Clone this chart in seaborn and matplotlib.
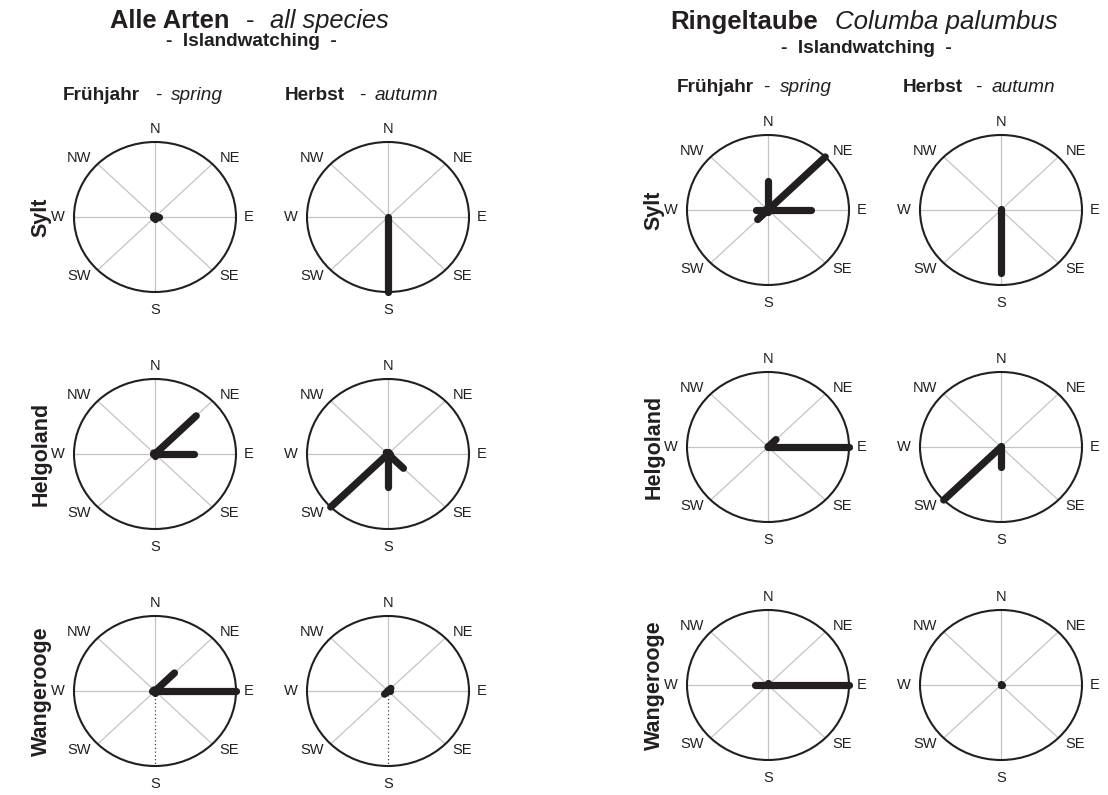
import numpy as np
import pandas as pd
import matplotlib
matplotlib.use("Agg")
import matplotlib.pyplot as plt
from matplotlib.patches import Circle
import seaborn as sns

sns.set_style("white")
plt.rcParams['font.family'] = ['Liberation Sans', 'DejaVu Sans']

# directions, clockwise from north
directions = ["N", "NE", "E", "SE", "S", "SW", "W", "NW"]
angles = [90, 45, 0, -45, -90, -135, 180, 135]

# relative share per direction (1 = outer circle)
all_sylt_spring = [0.02, 0.02, 0.05, 0.02, 0.02, 0.02, 0.03, 0.02]
all_sylt_autumn = [0.0, 0.0, 0.0, 0.0, 1.0, 0.0, 0.0, 0.0]
all_helgo_spring = [0.02, 0.72, 0.48, 0.02, 0.02, 0.0, 0.02, 0.02]
all_helgo_autumn = [0.03, 0.02, 0.03, 0.27, 0.44, 1.0, 0.03, 0.03]
all_wange_spring = [0.02, 0.34, 1.0, 0.02, 0.02, 0.02, 0.04, 0.02]
all_wange_autumn = [0.02, 0.05, 0.02, 0.0, 0.0, 0.06, 0.0, 0.0]

ring_sylt_spring = [0.38, 1.0, 0.53, 0.0, 0.02, 0.18, 0.15, 0.02]
ring_sylt_autumn = [0.02, 0.0, 0.0, 0.0, 0.84, 0.0, 0.0, 0.0]
ring_helgo_spring = [0.02, 0.14, 1.0, 0.0, 0.0, 0.0, 0.0, 0.0]
ring_helgo_autumn = [0.02, 0.0, 0.0, 0.0, 0.26, 1.0, 0.0, 0.0]
ring_wange_spring = [0.03, 0.0, 1.0, 0.0, 0.0, 0.0, 0.16, 0.0]
ring_wange_autumn = [0.01, 0.0, 0.01, 0.0, 0.0, 0.0, 0.0, 0.0]

islands = ["Sylt", "Helgoland", "Wangerooge"]

W, H = 1108, 795
INK = "#231f20"
fig = plt.figure(figsize=(W / 100, H / 100), dpi=100)


def fx(x):
    return x / W


def fy(y):
    return 1 - y / H


def rose(cx, cy, values, rx=81, ry=75, pad=1.45, dotted_south=False):
    ax = fig.add_axes([fx(cx - pad * rx), fy(cy + pad * ry), 2 * pad * rx / W, 2 * pad * ry / H])
    ax.set_xlim(-pad, pad)
    ax.set_ylim(-pad, pad)
    ax.axis("off")
    th = np.deg2rad(angles)
    for d, t in zip(directions, th):
        if dotted_south and d == "S":
            ax.plot([0, 0], [0, -1], color="#444444", lw=0.9, ls=(0, (1, 2)), zorder=1)
        else:
            ax.plot([0, np.cos(t)], [0, np.sin(t)], color="#c4c4c4", lw=0.9, zorder=1)
    ax.add_patch(Circle((0, 0), 1, fill=False, ec=INK, lw=1.5, zorder=2))
    rows = []
    for d, a, v in zip(directions, th, values):
        rows.append({"dir": d, "x": 0.0, "y": 0.0})
        rows.append({"dir": d, "x": v * np.cos(a), "y": v * np.sin(a)})
    df = pd.DataFrame(rows)
    sns.lineplot(data=df, x="x", y="y", units="dir", estimator=None, sort=False,
                 color=INK, lw=5.2, solid_capstyle="round", legend=False, ax=ax, zorder=3)
    ax.set_xlim(-pad, pad)
    ax.set_ylim(-pad, pad)
    ax.set_xlabel("")
    ax.set_ylabel("")
    lab_pos = {"N": (0, 1.17), "NE": (0.92, 0.79), "E": (1.16, 0), "SE": (0.91, -0.79),
               "S": (0, -1.24), "SW": (-0.94, -0.79), "W": (-1.2, 0), "NW": (-0.94, 0.79)}
    for d in directions:
        ax.text(*lab_pos[d], d, ha="center", va="center", fontsize=10.5, color=INK)
    return ax


def header(x_bold_end, x_dash, x_ital_start, y, bold, ital, size):
    fig.text(fx(x_bold_end), fy(y), bold, ha="right", va="baseline", fontsize=size,
             fontweight="bold", color=INK)
    fig.text(fx(x_dash), fy(y), "-", ha="center", va="baseline", fontsize=size, color=INK)
    fig.text(fx(x_ital_start), fy(y), ital, ha="left", va="baseline", fontsize=size,
             style="italic", color=INK)


# left block: all species
left_cols = [155, 388]
left_rows = [217, 454, 691]
left_data = [[all_sylt_spring, all_sylt_autumn],
             [all_helgo_spring, all_helgo_autumn],
             [all_wange_spring, all_wange_autumn]]
left_dotted = [[False, False], [False, False], [True, True]]
for r, cy in enumerate(left_rows):
    for c, cx in enumerate(left_cols):
        rose(cx, cy, left_data[r][c], dotted_south=left_dotted[r][c])
    fig.text(fx(41), fy(cy), islands[r], rotation=90, ha="center", va="center",
             fontsize=15.5, fontweight="bold", color=INK)

# right block: wood pigeon
right_cols = [768, 1001]
right_rows = [210, 447, 685]
right_data = [[ring_sylt_spring, ring_sylt_autumn],
              [ring_helgo_spring, ring_helgo_autumn],
              [ring_wange_spring, ring_wange_autumn]]
for r, cy in enumerate(right_rows):
    for c, cx in enumerate(right_cols):
        rose(cx, cy, right_data[r][c])
    fig.text(fx(654), fy(cy), islands[r], rotation=90, ha="center", va="center",
             fontsize=15.5, fontweight="bold", color=INK)

# titles
fig.text(fx(230), fy(28), "Alle Arten", ha="right", va="baseline", fontsize=18.4,
         fontweight="bold", color=INK)
fig.text(fx(250), fy(28), "-", ha="center", va="baseline", fontsize=18.4, color=INK)
fig.text(fx(270), fy(28), "all species", ha="left", va="baseline", fontsize=18.4,
         style="italic", color=INK)
fig.text(fx(251), fy(46), "-  Islandwatching  -", ha="center", va="baseline",
         fontsize=13.7, fontweight="bold", color=INK)

fig.text(fx(818), fy(29), "Ringeltaube", ha="right", va="baseline", fontsize=18.6,
         fontweight="bold", color=INK)
fig.text(fx(835), fy(29), "Columba palumbus", ha="left", va="baseline", fontsize=18.6,
         style="italic", color=INK)
fig.text(fx(866), fy(53), "-  Islandwatching  -", ha="center", va="baseline",
         fontsize=13.7, fontweight="bold", color=INK)

header(140, 158, 171, 100, "Frühjahr", "spring", 13.7)
header(345, 362, 375, 100, "Herbst", "autumn", 13.7)
header(754, 766, 780, 92, "Frühjahr", "spring", 13.7)
header(963, 978, 992, 92, "Herbst", "autumn", 13.7)

fig.savefig("out.png", dpi=100, facecolor="white")
